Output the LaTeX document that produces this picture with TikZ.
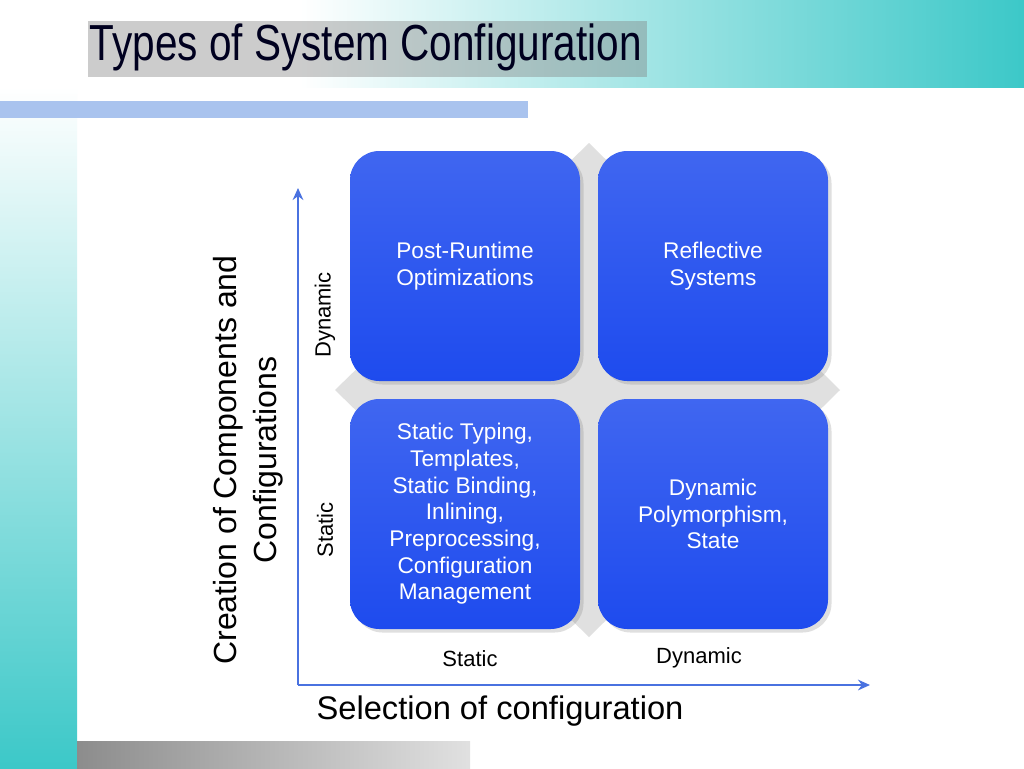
\documentclass[tikz,border=0pt]{standalone}
\usepackage{fontspec}
\setmainfont{Liberation Sans}
\usetikzlibrary{shadows,arrows.meta}
\definecolor{teal1}{HTML}{3CC8C8}
\definecolor{boxblue}{HTML}{1E4BEE}
\definecolor{axisblue}{HTML}{4A72E0}
\definecolor{barblue}{HTML}{A9C3EE}
\tikzset{
  quad/.style={draw=none, rounded corners=22, minimum width=172.5pt, minimum height=172.5pt,
    top color=boxblue!85!white, bottom color=boxblue, text=white, align=center,
    font=\fontsize{17}{20}\selectfont, drop shadow={opacity=0.25}},
  lab/.style={font=\fontsize{16.5}{20}\selectfont, text=black},
  axis/.style={draw=axisblue, line width=1.5pt, -{Stealth[length=9pt,width=8pt]}}
}
\begin{document}
\begin{tikzpicture}[x=0.75pt,y=-0.75pt]
\useasboundingbox (0,0) rectangle (1024,768);
\fill[white] (0,0) rectangle (1024,768);
% header
\shade[left color=white, right color=teal1] (300,0) rectangle (1024,87);
% left band
\shade[top color=white, bottom color=teal1] (0,87) rectangle (77,768);
% blue bar
\fill[barblue] (0,101) rectangle (528,118);
% bottom gray bar
\shade[left color=black!45, right color=black!12] (77,741) rectangle (470,768);
% title
\node[anchor=west, text=black!88!blue, xscale=0.8, drop shadow={opacity=0.4, shadow xshift=1.5pt, shadow yshift=-1.5pt}] (title) at (86,47) {\fontsize{38}{44}\selectfont Types of System Configuration};
% diamond
\fill[black!12] (589,143) -- (840,390) -- (589,637) -- (335,390) -- cycle;
% boxes
\node[quad] (b1) at (465,266) {Post-Runtime\\Optimizations};
\node[quad] (b2) at (713,266) {Reflective\\Systems};
\node[quad] (b3) at (465,514) {Static Typing,\\Templates,\\Static Binding,\\Inlining,\\Preprocessing,\\Configuration\\Management};
\node[quad] (b4) at (713,514) {Dynamic\\Polymorphism,\\State};
% axes
\coordinate (o) at (298,685);
\coordinate (ytop) at (298,188);
\coordinate (xend) at (870,685);
\draw[axis] (o) -- (ytop);
\draw[axis] (o) -- (xend);
% labels
\node[lab, rotate=90] (ldyn) at (325,315) {Dynamic};
\node[lab, rotate=90] (lsta) at (325,530) {Static};
\node[lab] (bsta) at (470,659) {Static};
\node[lab] (bdyn) at (699,658) {Dynamic};
\node[font=\fontsize{24.5}{28}\selectfont] (xl) at (500,711) {Selection of configuration};
\node[font=\fontsize{24}{30}\selectfont, rotate=90, align=center] (yl) at (248,460) {Creation of Components and\\Configurations};
\end{tikzpicture}
\end{document}
